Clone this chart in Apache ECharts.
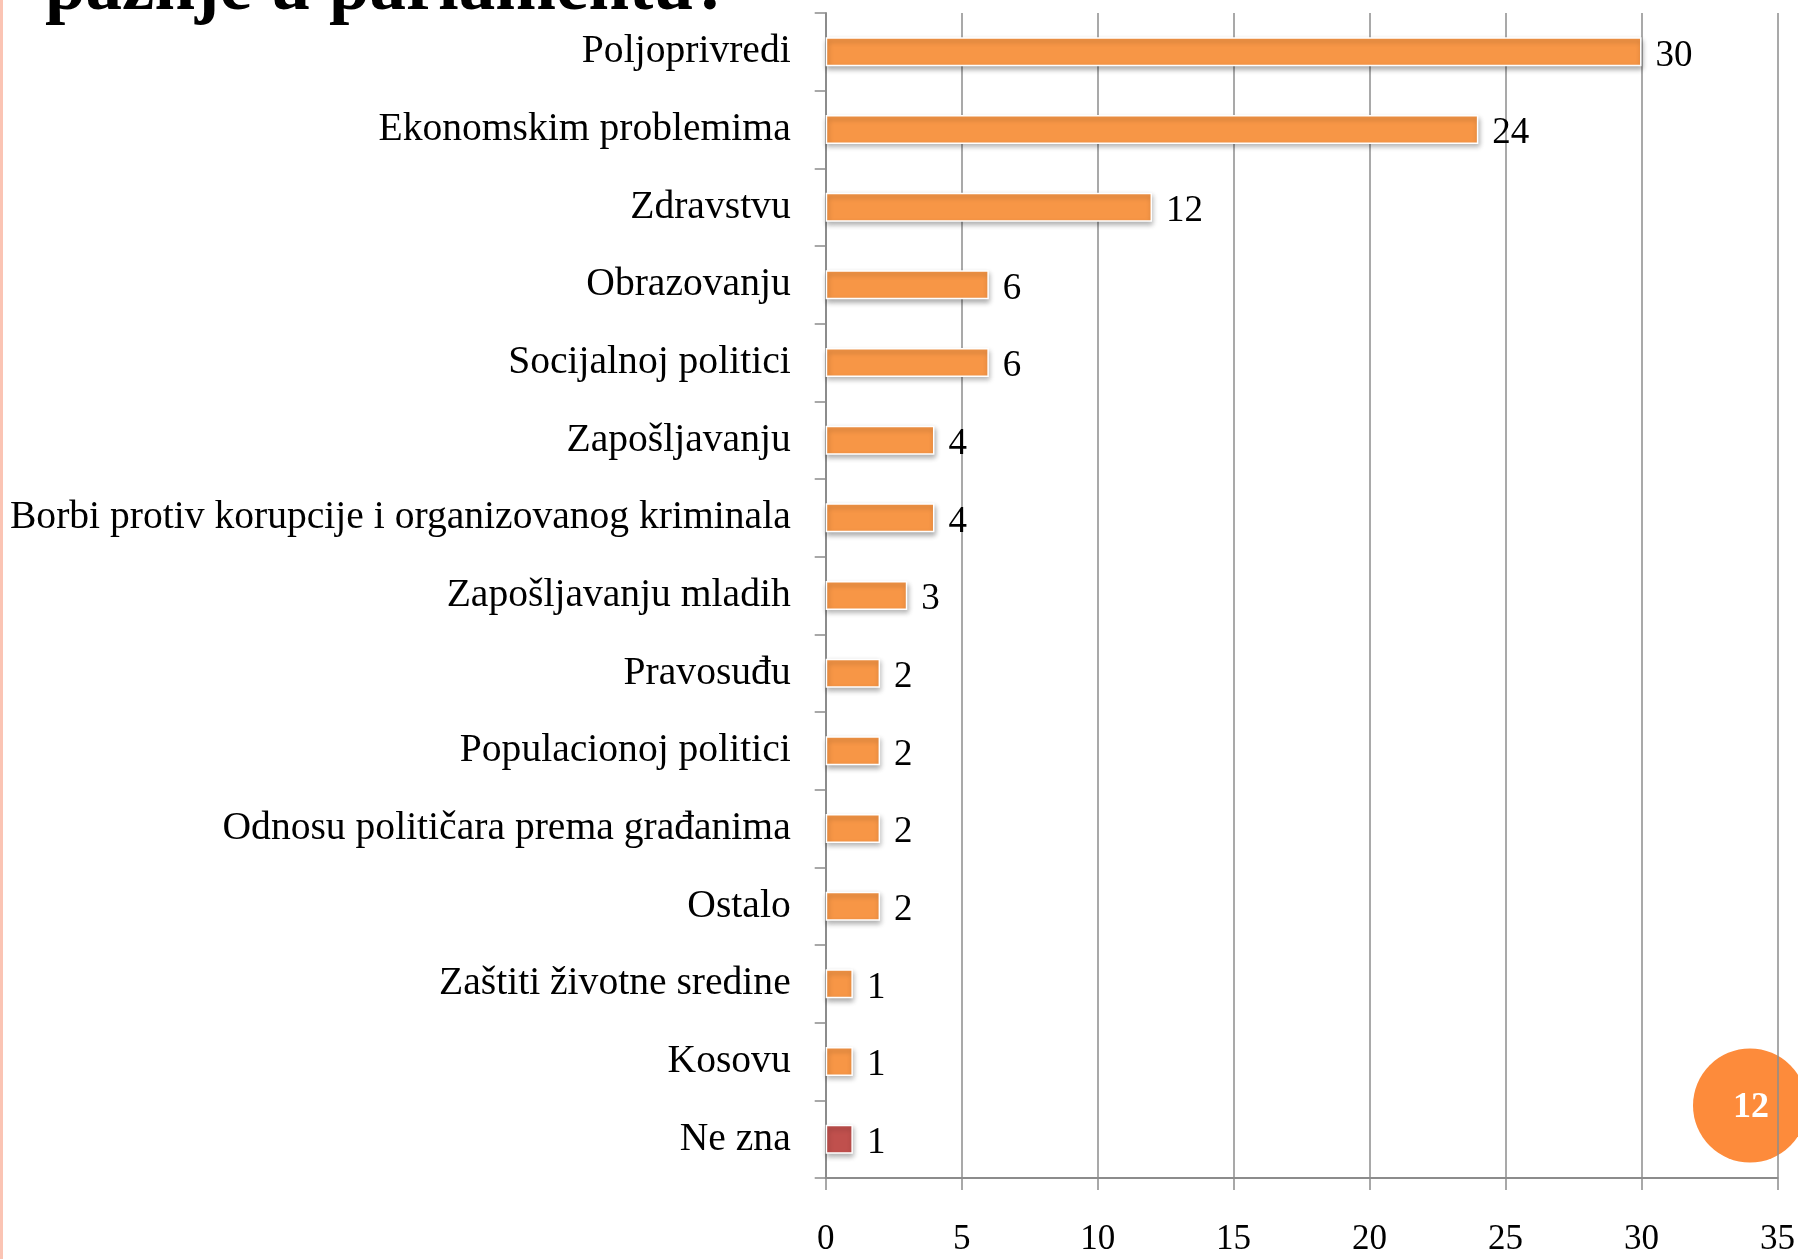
<!DOCTYPE html>
<html>
<head>
<meta charset="utf-8">
<script src="https://cdn.jsdelivr.net/npm/echarts@6/dist/echarts.min.js"></script>
<style>
html,body{margin:0;padding:0;background:#fff;}
#chart{width:1798px;height:1259px;}
</style>
</head>
<body>
<div id="chart"></div>
<script>
var categories = [
  "Poljoprivredi",
  "Ekonomskim problemima",
  "Zdravstvu",
  "Obrazovanju",
  "Socijalnoj politici",
  "Zapošljavanju",
  "Borbi protiv korupcije i organizovanog kriminala",
  "Zapošljavanju mladih",
  "Pravosuđu",
  "Populacionoj politici",
  "Odnosu političara prema građanima",
  "Ostalo",
  "Zaštiti životne sredine",
  "Kosovu",
  "Ne zna"
];
var values = [30, 24, 12, 6, 6, 4, 4, 3, 2, 2, 2, 2, 1, 1, 1];
var barColors = ["#F79646","#F79646","#F79646","#F79646","#F79646","#F79646","#F79646","#F79646","#F79646","#F79646","#F79646","#F79646","#F79646","#F79646","#C0504D"];
var xTicks = { min: 0, max: 35, interval: 5 };
var titleText = "pažnje u parlamentu?";
var pageNumber = "12";

var FONT = "'Liberation Serif', 'DejaVu Serif', serif";
var chart = echarts.init(document.getElementById('chart'), null, {renderer: 'canvas'});

var data = values.map(function (v, i) {
  return { value: v, itemStyle: { color: barColors[i] } };
});

chart.setOption({
  animation: false,
  backgroundColor: '#ffffff',
  grid: { left: 825.7, right: 20.3, top: 13, bottom: 81, containLabel: false },
  xAxis: {
    type: 'value',
    min: xTicks.min, max: xTicks.max, interval: xTicks.interval,
    axisLine: { show: true, lineStyle: { color: '#8c8c8c', width: 2 } },
    axisTick: { show: true, length: 12, lineStyle: { color: '#8c8c8c', width: 1.5 } },
    splitLine: { show: true, lineStyle: { color: '#8c8c8c', width: 1.5 } },
    axisLabel: { margin: 44, color: '#000', fontFamily: FONT, fontSize: 35 }
  },
  yAxis: {
    type: 'category',
    inverse: true,
    data: categories,
    axisLine: { show: true, lineStyle: { color: '#8c8c8c', width: 2 } },
    axisTick: { show: true, length: 11, alignWithLabel: false, lineStyle: { color: '#8c8c8c', width: 1.5 } },
    splitLine: { show: false },
    axisLabel: { margin: 35, color: '#000', fontFamily: FONT, fontSize: 39.6 }
  },
  series: [{
    type: 'bar',
    data: data,
    barWidth: 29,
    itemStyle: {
      borderColor: '#ffffff', borderWidth: 1.5,
      shadowBlur: 5, shadowColor: 'rgba(0,0,0,0.3)', shadowOffsetX: 1, shadowOffsetY: 3
    },
    label: {
      show: true, position: 'right', distance: 14, offset: [0, 4],
      color: '#000', fontFamily: FONT, fontSize: 37
    }
  }],
  graphic: [
    { type: 'rect', z: -10, shape: { x: 0, y: 0, width: 3, height: 1259 }, style: { fill: '#FBC4B4' } },
    { type: 'circle', z: -10, shape: { cx: 1750, cy: 1105.5, r: 57 }, style: { fill: '#FD8B3B' } },
    { type: 'text', z: 100, x: 1751, y: 1108,
      style: { text: pageNumber, fill: '#fff', font: "bold 36px " + FONT,
               align: 'center', verticalAlign: 'middle', textAlign: 'center', textVerticalAlign: 'middle' } },
    { type: 'text', z: 100, x: 45, y: -10,
      style: { text: titleText, fill: '#000', font: "bold 73px " + FONT,
               align: 'left', verticalAlign: 'middle', textAlign: 'left', textVerticalAlign: 'middle' } }
  ]
});
</script>
</body>
</html>
